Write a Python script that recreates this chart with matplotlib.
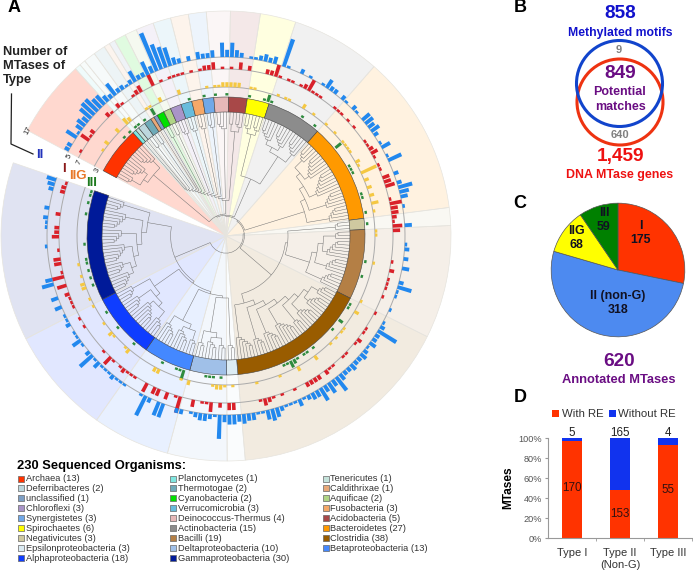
#!/usr/bin/env python3

import matplotlib
matplotlib.use("Agg")
import matplotlib.pyplot as plt
import numpy as np
from matplotlib.patches import Circle

plt.rcParams["font.family"] = ["Liberation Sans", "DejaVu Sans"]

# clades, in ring order (clockwise), legend reads across rows
clades = ["Archaea", "Planctomycetes", "Tenericutes", "Deferribacteres", "Thermotogae", "Caldithrixae",
          "unclassified", "Cyanobacteria", "Aquificae", "Chloroflexi", "Verrucomicrobia", "Fusobacteria",
          "Synergistetes", "Deinococcus-Thermus", "Acidobacteria", "Spirochaetes", "Actinobacteria",
          "Bacteroidetes", "Negativicutes", "Bacilli", "Clostridia", "Epsilonproteobacteria",
          "Deltaproteobacteria", "Betaproteobacteria", "Alphaproteobacteria", "Gammaproteobacteria"]
clade_n = [13, 1, 1, 2, 2, 1, 1, 2, 2, 3, 3, 3, 3, 4, 5, 6, 15, 27, 3, 19, 38, 3, 10, 13, 18, 30]
clade_col = ["#ff3300", "#80e6e0", "#c4e2da", "#bcd7dd", "#6eaab8", "#e8a878", "#7d9fc5", "#00e000", "#b0d585",
             "#a994c8", "#68bcdc", "#f5a868", "#70a8e8", "#e6b8b8", "#a84848", "#ffff00", "#8c8c8c", "#ff9900",
             "#cfc9a0", "#b47f45", "#995c00", "#dcecf4", "#a0c0e8", "#4488ff", "#0f3dff", "#001a99"]
clade_groups = [[3, 5, 5], [1], [1], [2], [2], [1], [1], [2], [2], [3], [3], [3], [3], [4], [2, 3], [3, 3],
                [5, 5, 5], [4, 6, 7, 5, 5], [3], [3, 6, 5, 5], [4, 5, 5, 3, 6, 5, 4, 6], [3], [3, 4, 3],
                [3, 5, 5], [4, 6, 4, 4], [5, 4, 6, 5, 6, 4]]
tree_parts = [[0], list(range(1, 15)), [15, 16], [17], [18, 19, 20], [21, 22, 23, 24, 25]]

# MTases of each type per organism (organism index: count), the rest are 0
type2 = {0:2,1:2,3:5,4:1,5:3,6:4,7:3,8:6,9:7,10:7,11:5,12:5,13:3,14:2,15:6,16:2,17:2,18:1,19:2,20:5,21:2,22:2,
         23:6,24:3,25:17,26:11,27:9,28:8,29:3,30:2,32:2,34:3,35:2,36:2,37:3,39:6,40:3,41:6,42:3,43:2,45:1,46:1,
         47:2,48:3,49:2,50:3,52:12,53:1,56:2,58:1,61:1,62:4,63:2,64:2,66:2,67:1,69:2,70:1,72:4,73:4,74:3,75:4,
         76:2,78:1,79:4,81:1,82:6,85:2,87:2,88:6,89:4,90:3,92:1,96:3,100:1,101:2,103:2,105:3,108:2,109:6,110:1,
         111:1,114:1,117:1,118:2,119:9,120:2,121:2,122:3,123:1,124:2,125:3,126:2,127:2,128:3,129:2,130:2,131:3,
         132:7,133:3,134:5,135:3,136:6,137:3,138:3,139:2,140:1,141:3,142:1,143:1,144:1,145:2,146:4,147:5,148:4,
         149:1,150:1,151:3,152:3,153:4,154:3,155:4,156:4,157:3,158:10,159:1,160:2,161:3,162:3,163:2,164:1,166:2,
         167:2,170:6,171:6,173:2,174:9,175:1,179:1,180:1,181:1,182:2,183:1,184:1,185:1,186:3,187:1,188:7,189:2,
         191:1,192:4,193:1,194:1,196:2,197:1,198:1,200:3,202:3,205:5,206:3,213:1,217:1,218:1,219:2,221:2,225:2,
         226:3,227:4}
type1 = {1:1,4:4,5:1,6:2,11:2,12:1,14:2,15:1,18:1,19:2,20:3,23:5,25:1,27:1,28:1,29:1,30:1,32:1,34:1,35:2,36:2,
         37:3,39:1,41:1,43:3,45:2,49:2,50:2,51:5,52:1,54:1,55:1,57:1,58:2,59:5,60:1,61:1,62:1,66:1,67:1,68:1,70:1,
         72:1,76:1,77:1,78:2,79:3,80:1,82:1,83:1,85:3,86:3,87:4,90:1,91:5,92:3,93:3,94:2,95:1,96:4,97:3,104:1,
         106:2,108:1,109:1,110:1,112:1,116:1,120:1,121:1,123:2,124:1,127:1,128:1,131:1,132:1,133:2,135:2,136:2,
         137:2,138:2,141:1,144:1,146:1,147:2,148:3,149:1,155:3,156:3,158:2,160:4,161:1,162:1,164:3,167:7,168:1,
         170:3,172:3,173:3,175:4,178:1,179:1,180:1,181:2,182:1,184:1,185:4,187:1,194:1,196:1,199:1,200:1,201:1,
         202:2,204:4,206:5,207:1,209:3,210:3,212:1,215:3,216:2,217:2,220:2,225:2,226:2,227:1}
type2g = {4:1,6:2,10:2,13:3,14:2,19:1,20:1,23:2,28:2,35:1,37:1,38:1,39:2,40:2,41:2,42:2,43:2,46:1,47:1,53:1,55:1,
          56:1,60:2,63:1,67:1,70:1,73:1,74:1,75:1,76:1,79:2,80:1,82:7,84:2,86:2,88:2,90:3,92:1,97:1,98:1,105:1,
          115:1,118:2,123:1,124:1,126:1,128:1,133:2,138:2,143:1,149:1,155:1,157:1,158:2,159:2,160:1,166:2,168:1,
          174:2,175:2,183:2,184:1,188:1,189:2,192:1,197:1,199:1,202:2,203:2,205:1,208:1}
type3 = {10:1,12:1,14:1,15:1,17:1,20:3,30:1,34:1,37:1,40:1,46:1,50:1,51:3,52:1,61:1,65:1,73:3,79:1,80:1,81:1,87:1,
         88:1,92:1,95:1,105:1,109:1,117:1,118:1,122:2,125:1,132:1,134:1,135:1,137:1,138:2,139:3,140:1,141:1,158:1,
         160:1,161:1,162:1,168:4,169:1,170:1,174:1,183:1,189:1,194:1,202:1,204:1,206:1,208:1,209:1,213:1,221:1,
         224:1,226:1,227:1}

venn_counts = [858, 849, 9, 640, 1459]
pie_labels = ["I", "II (non-G)", "IIG", "III"]
pie_values = [175, 318, 68, 59]
pie_cols = ["#ff3300", "#4d8af0", "#ffff00", "#008000"]
bar_names = ["Type I", "Type II\n(Non-G)", "Type III"]
with_re = [170, 153, 55]
without_re = [5, 165, 4]

W, H = 693, 571
fig = plt.figure(figsize=(W / 100, H / 100), dpi=100)

# ---- A: circular tree
cx, cy, R = 226, 236, 226
ax = fig.add_axes([(cx - R) / W, 1 - (cy + R) / H, 2 * R / W, 2 * R / H], projection="polar")
ax.set_axis_off()
ax.set_ylim(0, R)

START, SPAN = 152.0, 351.0
n_leaf = sum(clade_n)
step = SPAN / n_leaf
def ang(i):
    return np.radians(START - (i + 0.5) * step)

r_in, r_out = 124, 139
r_wedge = 225
first = 0
clade_start = []
for name, n, col in zip(clades, clade_n, clade_col):
    clade_start.append(first)
    th = np.radians(START - (first + n / 2) * step)
    w = np.radians(n * step)
    # pale sector, Archaea is a bit stronger
    a = 0.19 if name == "Archaea" else 0.12
    ax.bar(th, r_wedge, width=w, color=col, alpha=a, linewidth=0, zorder=1)
    ax.bar(th, r_wedge, width=w, facecolor="none", edgecolor="#e6e4de", linewidth=0.5, zorder=1.2)
    ax.bar(th, r_out - r_in, width=w, bottom=r_in, color=col, edgecolor="#444444", linewidth=0.4, zorder=3)
    first += n

# tree
line = dict(color="#707070", lw=0.35, zorder=2, solid_capstyle="butt")
def join(a, b, r):
    for t, r0 in (a, b):
        ax.plot([t, t], [r0, r], **line)
    ax.plot(np.linspace(a[0], b[0], 12), [r] * 12, **line)
    return ((a[0] + b[0]) / 2, r)
def ladder(nodes, r, dr):
    cur = nodes[0]
    for nd in nodes[1:]:
        cur = join(cur, nd, min(r, cur[1] - dr, nd[1] - dr))
    return cur

roots = []
for k, groups in enumerate(clade_groups):
    i = clade_start[k]
    subs = []
    for g in groups:
        tips = [(ang(j), r_in) for j in range(i, i + g)]
        subs.append(ladder(tips, r_in - 12, 2.4))
        i += g
    top = ladder(subs, min(s[1] for s in subs) - 3, 5)
    roots.append(top)
part_roots = []
for part in tree_parts:
    nd = ladder([roots[k] for k in part], 62, 2.2)
    ax.plot([nd[0], nd[0]], [nd[1], 28], **line)
    part_roots.append((nd[0], 28))
ladder(part_roots, 22, 1.2)

# rings of bars
scale = 2.4
width = np.radians(step) * 0.78
rings = [(type3, 140.5, "#2e8b3e"), (type2g, 149, "#f5c842"), (type1, 167, "#d9212a"), (type2, 179, "#2288ee")]
arc = np.radians(np.linspace(START, START - SPAN, 400))
for counts, base, col in rings:
    if base > 141:
        ax.plot(arc, [base] * 400, color="#aaaaaa", lw=0.7, zorder=4)
    idx = np.array(list(counts.keys()))
    val = np.array(list(counts.values()))
    ax.bar(ang(idx), val * scale, width=width, bottom=base, color=col, linewidth=0, zorder=5)

# ---- overlay in pixels for labels
ov = fig.add_axes([0, 0, 1, 1], facecolor="none", zorder=10)
ov.set_xlim(0, W)
ov.set_ylim(H, 0)
ov.set_axis_off()

for s, x, y in [("A", 14, 8), ("B", 520, 8), ("C", 520, 203), ("D", 520, 398)]:
    ov.text(x, y, s, fontsize=13, fontweight="bold", ha="center", va="center")
ov.text(3, 66, "Number of\nMTases of\nType", fontsize=9.3, fontweight="bold", ha="left", va="center", linespacing=1.2, color="#222222")
ov.plot([11.5, 11, 33], [94, 144, 154], color="#222222", lw=0.9)
ov.text(40, 155, "II", color="#2233bb", fontsize=9.5, fontweight="bold", ha="center", va="center")
ov.text(64, 169, "I", color="#8b1a1a", fontsize=9.5, fontweight="bold", ha="center", va="center")
ov.text(78, 176, "IIG", color="#e8792a", fontsize=9.5, fontweight="bold", ha="center", va="center")
ov.text(92, 183, "III", color="#1e7a1e", fontsize=9.5, fontweight="bold", ha="center", va="center")
for s, x, y in [("17", 28, 131), ("5", 69, 156), ("7", 79, 162), ("3", 97, 170)]:
    ov.text(x, y, s, fontsize=5.5, rotation=62, ha="center", va="center", color="#222222")

# legend of organisms
ov.text(17, 466, "%d Sequenced Organisms:" % 230, fontsize=9.3, fontweight="bold", ha="left", va="center")
for i, (name, n, col) in enumerate(zip(clades, clade_n, clade_col)):
    x = 21 + (i % 3) * 152.3
    y = 478.5 + (i // 3) * 9.95
    ov.scatter([x], [y], marker="s", s=14, facecolor=col, edgecolor="#666666", linewidth=0.5)
    ov.text(x + 4.5, y, "%s (%d)" % (name, n), fontsize=6.7, ha="left", va="center", color="#333333")

# ---- B: venn
ov.add_patch(Circle((620, 102), 43, fill=False, edgecolor="#ee3311", lw=2.2))
ov.add_patch(Circle((619.5, 83.5), 43, fill=False, edgecolor="#1144cc", lw=2.2))
blue, red, purple, gray = "#1111cc", "#ee1111", "#6a0d83", "#808080"
ov.text(620, 14, str(venn_counts[0]), color=blue, fontsize=13.7, fontweight="bold", ha="center", va="center")
ov.text(620, 33, "Methylated motifs", color=blue, fontsize=8.8, fontweight="bold", ha="center", va="center")
ov.text(619, 50, str(venn_counts[2]), color=gray, fontsize=8, fontweight="bold", ha="center", va="center")
ov.text(620, 73, str(venn_counts[1]), color=purple, fontsize=13.7, fontweight="bold", ha="center", va="center")
ov.text(620, 92, "Potential", color=purple, fontsize=9, fontweight="bold", ha="center", va="center")
ov.text(620, 107, "matches", color=purple, fontsize=9, fontweight="bold", ha="center", va="center")
ov.text(620, 135, str(venn_counts[3]), color=gray, fontsize=8, fontweight="bold", ha="center", va="center")
ov.text(620, 157, format(venn_counts[4], ","), color=red, fontsize=13.7, fontweight="bold", ha="center", va="center")
ov.text(620, 175, "DNA MTase genes", color=red, fontsize=8.9, fontweight="bold", ha="center", va="center")

# ---- C: pie
pr = 67.5
axp = fig.add_axes([(618 - pr) / W, 1 - (270 + pr) / H, 2 * pr / W, 2 * pr / H])
axp.pie(pie_values, colors=pie_cols, startangle=90, counterclock=False, radius=1.0,
        wedgeprops=dict(edgecolor="#555555", linewidth=0.5))
axp.set_xlim(-1.01, 1.01)
axp.set_ylim(-1.01, 1.01)
label_pos = [(640.7, 233), (618, 303), (576.5, 238), (604, 220)]
for lab, v, (x, y) in zip(pie_labels, pie_values, label_pos):
    ov.text(x, y, "%s\n%d" % (lab, v), fontsize=8.9, fontweight="bold", ha="center", va="center", linespacing=1.25, color="#111122")
ov.text(619, 362, str(sum(pie_values)), color=purple, fontsize=13.7, fontweight="bold", ha="center", va="center")
ov.text(619, 380, "Annotated MTases", color=purple, fontsize=9.3, fontweight="bold", ha="center", va="center")

# ---- D: stacked bars
axd = fig.add_axes([548 / W, 1 - 538 / H, 144 / W, 100 / H])
with_re = np.array(with_re)
without_re = np.array(without_re)
pct = 100 * with_re / (with_re + without_re)
xs = np.arange(len(bar_names))
axd.bar(xs, pct, width=0.4, color="#ff3300", label="With RE")
axd.bar(xs, 100 - pct, width=0.4, bottom=pct, color="#1133ee", label="Without RE")
axd.set_xlim(-0.5, 2.5)
axd.set_ylim(0, 100)
axd.set_yticks(np.arange(0, 101, 20))
axd.set_yticklabels(["%d%%" % t for t in range(0, 101, 20)], fontsize=6.6, color="#555555")
axd.set_xticks(xs)
axd.set_xticklabels(bar_names, fontsize=8, color="#333333", linespacing=1.3)
axd.set_xticks([0.5, 1.5, 2.5], minor=True)
axd.tick_params(axis="x", which="major", length=0, pad=7)
axd.tick_params(axis="x", which="minor", length=2.5, color="#999999")
axd.tick_params(axis="y", length=2.5, color="#999999", pad=2)
axd.spines["top"].set_visible(False)
axd.spines["right"].set_visible(False)
axd.spines["left"].set_color("#999999")
axd.spines["bottom"].set_color("#999999")
axd.set_ylabel("MTases", fontsize=8.6, fontweight="bold", labelpad=3)
for x, p, a, b in zip(xs, pct, with_re, without_re):
    axd.text(x, p / 2 + (1 if p > 60 else 0), str(a), fontsize=8.4, ha="center", va="center", color="#331111")
    axd.text(x, 105, str(b), fontsize=8.4, ha="center", va="center", color="#222222")
axd.legend(loc="lower center", bbox_to_anchor=(0.46, 1.13), ncol=2, frameon=False, fontsize=8.2,
           handlelength=0.62, handleheight=0.62, handletextpad=0.2, columnspacing=0.5, borderpad=0, labelcolor="#333333")

fig.savefig("out.png", dpi=100)
